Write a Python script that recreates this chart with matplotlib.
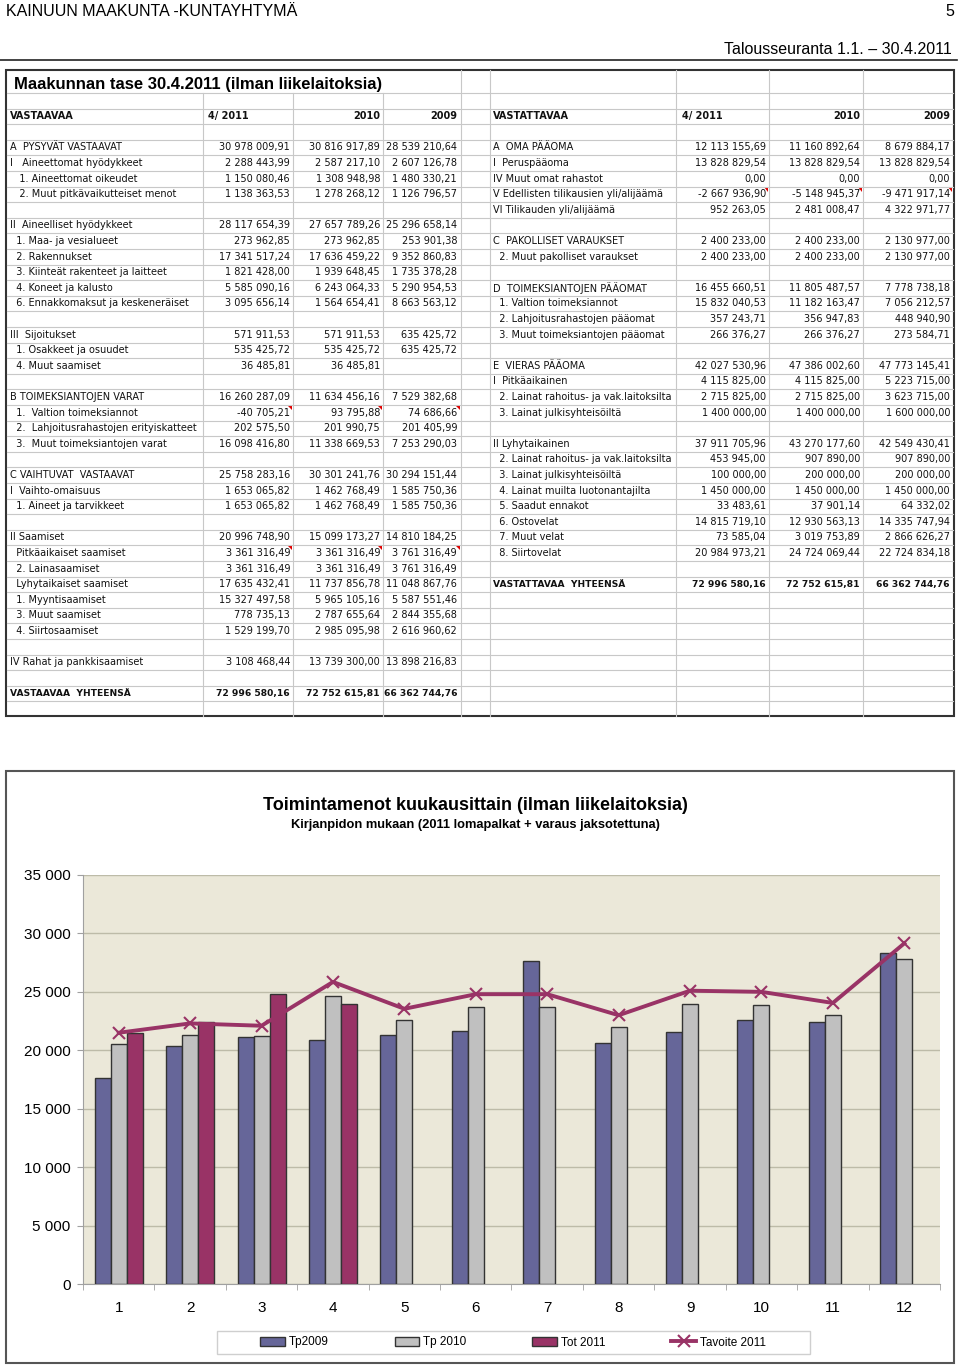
import matplotlib
matplotlib.use("Agg")
import matplotlib.pyplot as plt
from matplotlib.patches import Rectangle, Polygon
import numpy as np

plt.rcParams['font.family'] = ['Liberation Sans', 'DejaVu Sans']

# --- kaavion tiedot (tuhatta euroa / kk) ---
months = list(range(1, 13))
tp2009 = [17600, 20400, 21150, 20850, 21300, 21650, 27650, 20650, 21600, 22550, 22400, 28300]
tp2010 = [20550, 21300, 21200, 24650, 22550, 23700, 23700, 22000, 23950, 23900, 23000, 27800]
tot2011 = [21450, 22400, 24800, 23950]
tavoite2011 = [21500, 22300, 22100, 25850, 23550, 24800, 24800, 23000, 25100, 25000, 24050, 29150]
series_names = ['Tp2009', 'Tp 2010', 'Tot 2011', 'Tavoite 2011']
y_ticks = [0, 5000, 10000, 15000, 20000, 25000, 30000, 35000]

# --- taseen rivit: (rivi, nimi, 4/2011, 2010, 2009) ---
col_heads = ['4/ 2011', '2010', '2009']
vastaavaa = [
    (4, 'A  PYSYVÄT VASTAAVAT', '30 978 009,91', '30 816 917,89', '28 539 210,64'),
    (5, 'I   Aineettomat hyödykkeet', '2 288 443,99', '2 587 217,10', '2 607 126,78'),
    (6, '   1. Aineettomat oikeudet', '1 150 080,46', '1 308 948,98', '1 480 330,21'),
    (7, '   2. Muut pitkävaikutteiset menot', '1 138 363,53', '1 278 268,12', '1 126 796,57'),
    (9, 'II  Aineelliset hyödykkeet', '28 117 654,39', '27 657 789,26', '25 296 658,14'),
    (10, '  1. Maa- ja vesialueet', '273 962,85', '273 962,85', '253 901,38'),
    (11, '  2. Rakennukset', '17 341 517,24', '17 636 459,22', '9 352 860,83'),
    (12, '  3. Kiinteät rakenteet ja laitteet', '1 821 428,00', '1 939 648,45', '1 735 378,28'),
    (13, '  4. Koneet ja kalusto', '5 585 090,16', '6 243 064,33', '5 290 954,53'),
    (14, '  6. Ennakkomaksut ja keskeneräiset', '3 095 656,14', '1 564 654,41', '8 663 563,12'),
    (16, 'III  Sijoitukset', '571 911,53', '571 911,53', '635 425,72'),
    (17, '  1. Osakkeet ja osuudet', '535 425,72', '535 425,72', '635 425,72'),
    (18, '  4. Muut saamiset', '36 485,81', '36 485,81', ''),
    (20, 'B TOIMEKSIANTOJEN VARAT', '16 260 287,09', '11 634 456,16', '7 529 382,68'),
    (21, '  1.  Valtion toimeksiannot', '-40 705,21', '93 795,88', '74 686,66'),
    (22, '  2.  Lahjoitusrahastojen erityiskatteet', '202 575,50', '201 990,75', '201 405,99'),
    (23, '  3.  Muut toimeksiantojen varat', '16 098 416,80', '11 338 669,53', '7 253 290,03'),
    (25, 'C VAIHTUVAT  VASTAAVAT', '25 758 283,16', '30 301 241,76', '30 294 151,44'),
    (26, 'I  Vaihto-omaisuus', '1 653 065,82', '1 462 768,49', '1 585 750,36'),
    (27, '  1. Aineet ja tarvikkeet', '1 653 065,82', '1 462 768,49', '1 585 750,36'),
    (29, 'II Saamiset', '20 996 748,90', '15 099 173,27', '14 810 184,25'),
    (30, '  Pitkäaikaiset saamiset', '3 361 316,49', '3 361 316,49', '3 761 316,49'),
    (31, '  2. Lainasaamiset', '3 361 316,49', '3 361 316,49', '3 761 316,49'),
    (32, '  Lyhytaikaiset saamiset', '17 635 432,41', '11 737 856,78', '11 048 867,76'),
    (33, '  1. Myyntisaamiset', '15 327 497,58', '5 965 105,16', '5 587 551,46'),
    (34, '  3. Muut saamiset', '778 735,13', '2 787 655,64', '2 844 355,68'),
    (35, '  4. Siirtosaamiset', '1 529 199,70', '2 985 095,98', '2 616 960,62'),
    (37, 'IV Rahat ja pankkisaamiset', '3 108 468,44', '13 739 300,00', '13 898 216,83'),
]
vastaavaa_total = (39, 'VASTAAVAA  YHTEENSÄ', '72 996 580,16', '72 752 615,81', '66 362 744,76')

vastattavaa = [
    (4, 'A  OMA PÄÄOMA', '12 113 155,69', '11 160 892,64', '8 679 884,17'),
    (5, 'I  Peruspääoma', '13 828 829,54', '13 828 829,54', '13 828 829,54'),
    (6, 'IV Muut omat rahastot', '0,00', '0,00', '0,00'),
    (7, 'V Edellisten tilikausien yli/alijäämä', '-2 667 936,90', '-5 148 945,37', '-9 471 917,14'),
    (8, 'VI Tilikauden yli/alijäämä', '952 263,05', '2 481 008,47', '4 322 971,77'),
    (10, 'C  PAKOLLISET VARAUKSET', '2 400 233,00', '2 400 233,00', '2 130 977,00'),
    (11, '  2. Muut pakolliset varaukset', '2 400 233,00', '2 400 233,00', '2 130 977,00'),
    (13, 'D  TOIMEKSIANTOJEN PÄÄOMAT', '16 455 660,51', '11 805 487,57', '7 778 738,18'),
    (14, '  1. Valtion toimeksiannot', '15 832 040,53', '11 182 163,47', '7 056 212,57'),
    (15, '  2. Lahjoitusrahastojen pääomat', '357 243,71', '356 947,83', '448 940,90'),
    (16, '  3. Muut toimeksiantojen pääomat', '266 376,27', '266 376,27', '273 584,71'),
    (18, 'E  VIERAS PÄÄOMA', '42 027 530,96', '47 386 002,60', '47 773 145,41'),
    (19, 'I  Pitkäaikainen', '4 115 825,00', '4 115 825,00', '5 223 715,00'),
    (20, '  2. Lainat rahoitus- ja vak.laitoksilta', '2 715 825,00', '2 715 825,00', '3 623 715,00'),
    (21, '  3. Lainat julkisyhteisöiltä', '1 400 000,00', '1 400 000,00', '1 600 000,00'),
    (23, 'II Lyhytaikainen', '37 911 705,96', '43 270 177,60', '42 549 430,41'),
    (24, '  2. Lainat rahoitus- ja vak.laitoksilta', '453 945,00', '907 890,00', '907 890,00'),
    (25, '  3. Lainat julkisyhteisöiltä', '100 000,00', '200 000,00', '200 000,00'),
    (26, '  4. Lainat muilta luotonantajilta', '1 450 000,00', '1 450 000,00', '1 450 000,00'),
    (27, '  5. Saadut ennakot', '33 483,61', '37 901,14', '64 332,02'),
    (28, '  6. Ostovelat', '14 815 719,10', '12 930 563,13', '14 335 747,94'),
    (29, '  7. Muut velat', '73 585,04', '3 019 753,89', '2 866 626,27'),
    (30, '  8. Siirtovelat', '20 984 973,21', '24 724 069,44', '22 724 834,18'),
]
vastattavaa_total = (32, 'VASTATTAVAA  YHTEENSÄ', '72 996 580,16', '72 752 615,81', '66 362 744,76')

# rivit joissa solukommentti (punainen kolmio)
left_comments = [21, 30]
right_comments = [7]

fig = plt.figure(figsize=(9.6, 13.68), dpi=100)

# koko sivun "paperi" pikselikoordinaateissa
page = fig.add_axes([0, 0, 1, 1])
page.set_xlim(0, 960)
page.set_ylim(1368, 0)
page.axis('off')

page.text(6, 12, 'KAINUUN MAAKUNTA -KUNTAYHTYMÄ', fontsize=11.5, va='center')
page.text(954, 12, '5', fontsize=11.5, va='center', ha='right')
page.text(952, 49, 'Talousseuranta 1.1. – 30.4.2011', fontsize=11.5, va='center', ha='right')
page.plot([0, 957], [60, 60], color='#222222', lw=1.2)

# --- taulukko ---
def row_y(k):
    return 85 + 15.6 * k

grid_c = '#c8c8c8'
for j in range(40):
    y = 93 + 15.6 * j
    page.plot([7, 953], [y, y], color=grid_c, lw=0.8)
for xv in [203, 293, 383]:
    page.plot([xv, xv], [93, 716], color=grid_c, lw=0.8)
for xv in [461, 490, 676, 769, 863]:
    page.plot([xv, xv], [70, 716], color=grid_c, lw=0.8)
page.add_patch(Rectangle((6, 70), 948, 646, fill=False, edgecolor='#333333', lw=1.5))

page.text(14, 84, 'Maakunnan tase 30.4.2011 (ilman liikelaitoksia)', fontsize=12,
          weight='bold', va='center')

body = dict(family='DejaVu Sans', va='center', color='#111111')
left_x = [290, 380, 457]
right_x = [766, 860, 950]

def header(xl, head_text, xs, x4):
    page.text(xl, row_y(2), head_text, weight='bold', fontsize=7, **body)
    page.text(x4, row_y(2), col_heads[0], weight='bold', fontsize=7, **body)
    page.text(xs[1], row_y(2), col_heads[1], weight='bold', fontsize=7, ha='right', **body)
    page.text(xs[2], row_y(2), col_heads[2], weight='bold', fontsize=7, ha='right', **body)

def rows(data, xl, xs, weight='normal', size=7):
    for k, label, a, b, c in data:
        page.text(xl, row_y(k), label, weight=weight, fontsize=size, **body)
        for xv, val in zip(xs, (a, b, c)):
            page.text(xv, row_y(k), val, ha='right', weight=weight, fontsize=size, **body)

header(10, 'VASTAAVAA', left_x, 208)
header(493, 'VASTATTAVAA', right_x, 682)
rows(vastaavaa, 10, left_x)
rows([vastaavaa_total], 10, left_x, 'bold', 6.6)
rows(vastattavaa, 493, right_x)
rows([vastattavaa_total], 493, right_x, 'bold', 6.6)

def comment(xr, k):
    top = 93 + 15.6 * (k - 1)
    page.add_patch(Polygon([(xr - 5, top + 0.6), (xr - 0.6, top + 0.6), (xr - 0.6, top + 5)],
                           closed=True, color='#e00000', lw=0))

for k in left_comments:
    for xr in [293, 383, 461]:
        comment(xr, k)
for k in right_comments:
    for xr in [769, 863, 953]:
        comment(xr, k)

# --- kaavion kehys ja otsikot ---
page.add_patch(Rectangle((6, 771), 948, 592, fill=False, edgecolor='#555555', lw=1.5))
page.text(475, 805, 'Toimintamenot kuukausittain (ilman liikelaitoksia)', fontsize=13,
          weight='bold', ha='center', va='center')
page.text(475, 825, 'Kirjanpidon mukaan (2011 lomapalkat + varaus jaksotettuna)', fontsize=9.3,
          weight='bold', ha='center', va='center')
page.add_patch(Rectangle((217, 1331), 593, 23, fill=False, edgecolor='#cfcfcf', lw=1))

# --- pylväskaavio ---
ax = fig.add_axes([83 / 960, (1368 - 1284) / 1368, 857 / 960, 409 / 1368])
ax.set_facecolor('#ebe8d9')
x = np.array(months)
w = 0.224
edge = dict(edgecolor='#333333', linewidth=1, zorder=3)
ax.bar(x - w, tp2009, w, color='#666699', label=series_names[0], **edge)
ax.bar(x, tp2010, w, color='#c0c0c0', label=series_names[1], **edge)
ax.bar(x[:len(tot2011)] + w, tot2011, w, color='#993366', label=series_names[2], **edge)
ax.plot(x, tavoite2011, color='#993366', lw=2.8, marker='x', ms=8, mew=1.5, zorder=4,
        label=series_names[3])

ax.set_xlim(0.5, 12.5)
ax.set_ylim(0, 35000)
ax.set_yticks(y_ticks)
ax.set_yticklabels([f'{v:,}'.replace(',', ' ') for v in y_ticks])
ax.grid(axis='y', color='#bdbba8', lw=1)
ax.set_axisbelow(True)
for s in ['top', 'right']:
    ax.spines[s].set_visible(False)
for s in ['left', 'bottom']:
    ax.spines[s].set_color('#a0a0a0')
ax.tick_params(axis='y', length=4, color='#a0a0a0', labelsize=11, pad=5)
ax.set_xticks(x)
ax.set_xticklabels([str(m) for m in months])
ax.tick_params(axis='x', which='major', length=0, labelsize=11, pad=12)
ax.set_xticks(np.arange(0.5, 12.6, 1), minor=True)
ax.tick_params(axis='x', which='minor', length=4, color='#a0a0a0')

handles, labels = ax.get_legend_handles_labels()
order = [1, 2, 3, 0]
fig.legend([handles[i] for i in order], [labels[i] for i in order], loc='center',
           bbox_to_anchor=(513 / 960, 1 - 1342.5 / 1368), ncol=4, frameon=False,
           fontsize=8.5, handlelength=2.1, handleheight=0.75, handletextpad=0.3,
           columnspacing=5.6)

fig.savefig('out.png', dpi=100)
